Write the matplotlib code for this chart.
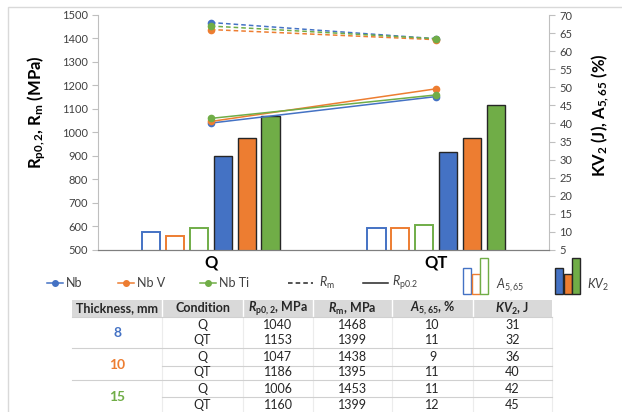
import numpy as np
import matplotlib
matplotlib.use("Agg")
import matplotlib.pyplot as plt
from matplotlib.lines import Line2D
from matplotlib.patches import Rectangle

plt.rcParams['font.family'] = ['Lato', 'DejaVu Sans']
plt.rcParams['mathtext.fontset'] = 'custom'
plt.rcParams['mathtext.rm'] = 'Lato'
plt.rcParams['mathtext.it'] = 'Lato:italic'
plt.rcParams['mathtext.bf'] = 'Lato:bold'
plt.rcParams['mathtext.bfit'] = 'Lato:italic:bold'

# Data
conditions = ['Q', 'QT']
alloys = ['Nb', 'Nb V', 'Nb Ti']
colors = ['#4472C4', '#ED7D31', '#70AD47']
rp02 = [[1040, 1153], [1047, 1186], [1060, 1160]]
rm = [[1468, 1399], [1438, 1395], [1453, 1399]]
a565 = [[10, 11], [9, 11], [11, 12]]
kv2 = [[31, 32], [36, 36], [42, 45]]

# Table
thickness = ['8', '10', '15']
table_cond = ['Q', 'QT']
table_rp = [['1040', '1153'], ['1047', '1186'], ['1006', '1160']]
table_rm = [['1468', '1399'], ['1438', '1395'], ['1453', '1399']]
table_a = [['10', '11'], ['9', '11'], ['11', '12']]
table_kv = [['31', '32'], ['36', '40'], ['42', '45']]

W, H = 622, 412


def fx(x):
	return x / W


def fy(y):
	return 1 - y / H


fig = plt.figure(figsize=(6.22, 4.12), dpi=100)
fig.add_artist(Rectangle((fx(8), fy(500)), 1, fy(7) - fy(500), transform=fig.transFigure,
                         fill=False, edgecolor='#d9d9d9', lw=1))

ax = fig.add_axes([fx(98), fy(250), fx(549 - 98), fy(15) - fy(250)])
ax2 = ax.twinx()
ax.set_zorder(ax2.get_zorder() + 1)
ax.patch.set_visible(False)

x = np.arange(len(conditions))
bw = 0.08
step = 0.106

# bars on the right axis
for i in range(3):
	ax2.bar(x + (i - 2.5) * step, a565[i], width=bw, facecolor='white',
	        edgecolor=colors[i], lw=1.4)
	ax2.bar(x + (i + 0.5) * step, kv2[i], width=bw, facecolor=colors[i],
	        edgecolor='#262626', lw=1.0)

# lines on the left axis
for i in range(3):
	ax.plot(x, rm[i], color=colors[i], ls=(0, (3, 2)), lw=1.1, marker='o', ms=4.5,
	        markeredgecolor=colors[i], zorder=3)
	ax.plot(x, rp02[i], color=colors[i], ls='-', lw=1.1, marker='o', ms=4.5,
	        markeredgecolor=colors[i], zorder=3)

ax.set_xlim(-0.5, 1.5)
ax.set_ylim(500, 1500)
ax.set_yticks(np.arange(500, 1501, 100))
ax2.set_ylim(5, 70)
ax2.set_yticks(np.arange(5, 71, 5))
ax.set_xticks(x)
ax.set_xticklabels(conditions, fontsize=12, fontweight='bold')
ax.tick_params(axis='x', length=0, pad=3)

for a in (ax, ax2):
	a.spines['top'].set_visible(False)
	a.spines['left'].set_color('#bfbfbf')
	a.spines['right'].set_color('#bfbfbf')
	a.spines['bottom'].set_color('#7f7f7f')
ax.spines['right'].set_visible(False)
ax2.spines['left'].set_visible(False)
ax.tick_params(axis='y', colors='#bfbfbf', labelcolor='#404040', labelsize=8, length=4, width=0.8)
ax2.tick_params(axis='y', colors='#bfbfbf', labelcolor='#404040', labelsize=8, length=4, width=0.8)

fig.text(fx(37), fy(112), r'$\mathbf{R_{p0,2}}$, $\mathbf{R_{m}}$ (MPa)', rotation=90,
         fontsize=12, fontweight='bold', ha='center', va='center')
fig.text(fx(600), fy(115), r'$\mathbf{KV_{2}}$ (J), $\mathbf{A_{5,65}}$ (%)', rotation=90,
         fontsize=12, fontweight='bold', ha='center', va='center')

# legend row
ly = 283
for i, (x1, x2, tx) in enumerate([(47, 63, 66), (118, 134, 137), (200, 216, 219)]):
	fig.add_artist(Line2D([fx(x1), fx(x2)], [fy(ly), fy(ly)], transform=fig.transFigure,
	                      color=colors[i], lw=1.1))
	fig.add_artist(Line2D([fx((x1 + x2) / 2)], [fy(ly)], transform=fig.transFigure,
	                      color=colors[i], marker='o', ms=4, ls='none'))
	fig.text(fx(tx), fy(ly), alloys[i], fontsize=9, color='#404040', va='center')
fig.add_artist(Line2D([fx(288), fx(313)], [fy(ly), fy(ly)], transform=fig.transFigure,
                      color='#262626', lw=1.1, ls=(0, (3, 2))))
fig.text(fx(319), fy(ly), r'$R_{\rm m}$', fontsize=9, color='#404040', va='center')
fig.add_artist(Line2D([fx(363), fx(388)], [fy(ly), fy(ly)], transform=fig.transFigure,
                      color='#262626', lw=1.1))
fig.text(fx(392), fy(ly), r'$R_{\rm p0.2}$', fontsize=9, color='#404040', va='center')

# bar legend icons
icon_tops = [268, 274, 258]
for i in range(3):
	x0 = 463 + i * 8.5
	fig.add_artist(Rectangle((fx(x0), fy(294)), fx(8), fy(icon_tops[i]) - fy(294),
	                         transform=fig.transFigure, facecolor='white',
	                         edgecolor=colors[i], lw=1.0))
	x0 = 555 + i * 8.5
	fig.add_artist(Rectangle((fx(x0), fy(294)), fx(8), fy(icon_tops[i]) - fy(294),
	                         transform=fig.transFigure, facecolor=colors[i],
	                         edgecolor='#262626', lw=1.0))
fig.text(fx(496), fy(285), r'$A_{5,65}$', fontsize=9, color='#404040', va='center')
fig.text(fx(587), fy(285), r'$KV_{2}$', fontsize=9, color='#404040', va='center')

# table
cols = [72, 162, 243, 313, 392, 473, 552]
headers = ['Thickness, mm', 'Condition', r'$\mathbfit{R}_{\mathbf{p0,2}}$, MPa',
           r'$\mathbfit{R}_{\mathbf{m}}$, MPa', r'$\mathbfit{A}_{\mathbf{5,65}}$, %',
           r'$\mathbfit{KV}_{\mathbf{2}}$, J']
fig.add_artist(Rectangle((fx(72), fy(317)), fx(552 - 72), fy(300) - fy(317),
                         transform=fig.transFigure, facecolor='#d9d9d9', edgecolor='none'))
for c in range(len(headers)):
	fig.text(fx((cols[c] + cols[c + 1]) / 2), fy(308.5), headers[c], fontsize=9,
	         fontweight='bold', ha='center', va='center', color='#262626')
	if c > 0:
		fig.add_artist(Line2D([fx(cols[c]), fx(cols[c])], [fy(300), fy(317)],
		                      transform=fig.transFigure, color='white', lw=1))
for c in cols[1:]:
	fig.add_artist(Line2D([fx(c), fx(c)], [fy(317), fy(412)],
	                      transform=fig.transFigure, color='#ececec', lw=0.8))
for yy in [317, 348, 380]:
	fig.add_artist(Line2D([fx(72), fx(552)], [fy(yy), fy(yy)],
	                      transform=fig.transFigure, color='#d0d0d0', lw=0.8))
for yy in [366, 397]:
	fig.add_artist(Line2D([fx(162), fx(552)], [fy(yy), fy(yy)],
	                      transform=fig.transFigure, color='#d0d0d0', lw=0.8))

row_y = [[325, 340], [357, 372], [389, 405]]
group_y = [333, 365, 397]
for g in range(3):
	fig.text(fx(117), fy(group_y[g]), thickness[g], fontsize=10, fontweight='bold',
	         color=colors[g], ha='center', va='center')
	for r in range(2):
		vals = [table_cond[r], table_rp[g][r], table_rm[g][r], table_a[g][r], table_kv[g][r]]
		for c, v in enumerate(vals):
			fig.text(fx((cols[c + 1] + cols[c + 2]) / 2), fy(row_y[g][r]), v, fontsize=9,
			         ha='center', va='center', color='#262626')

fig.savefig('out.png', dpi=100)
